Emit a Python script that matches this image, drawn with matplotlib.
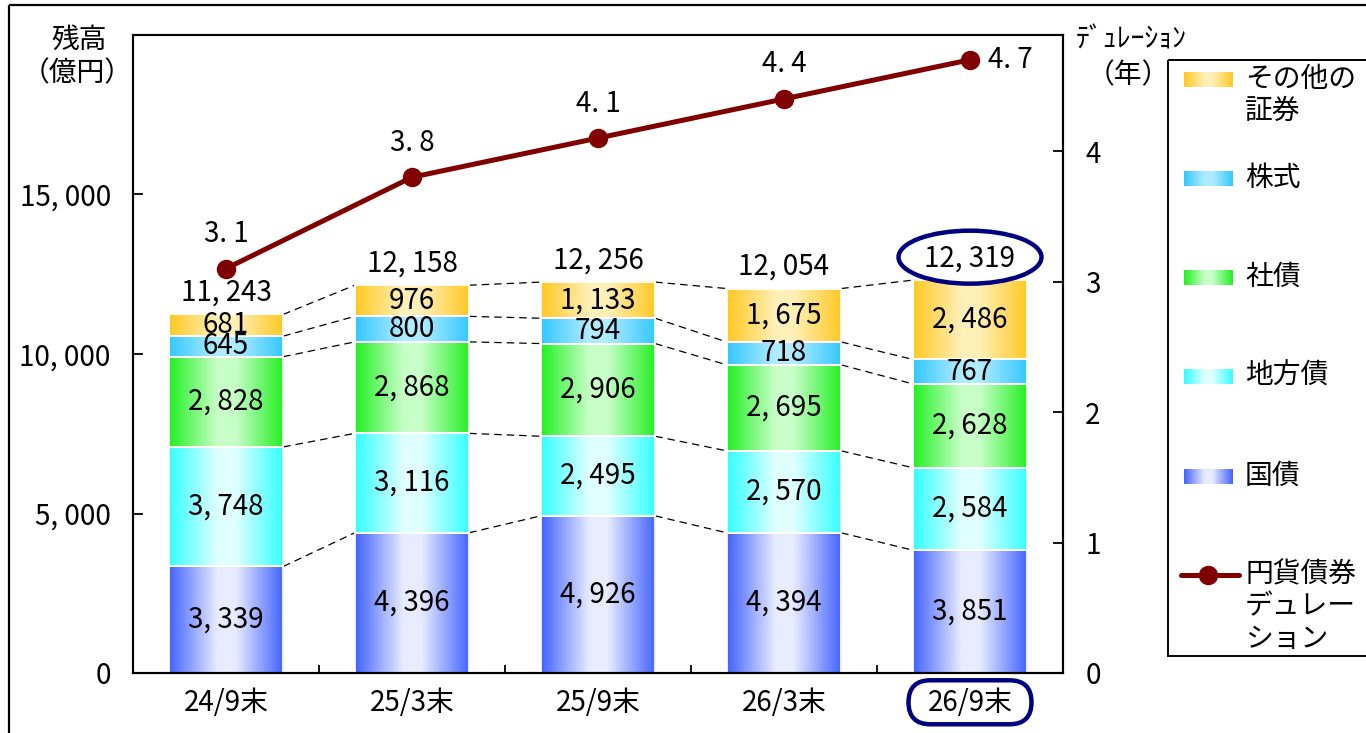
import matplotlib
matplotlib.use('Agg')
import matplotlib.pyplot as plt
import numpy as np
from matplotlib.colors import LinearSegmentedColormap
from matplotlib.patches import Rectangle, FancyBboxPatch, Ellipse
from matplotlib.transforms import IdentityTransform
from matplotlib.ticker import FuncFormatter

plt.rcParams['font.family'] = ['Noto Sans CJK JP', 'DejaVu Sans']

# ---------------- data ----------------
categories = ['24/9末', '25/3末', '25/9末', '26/3末', '26/9末']
kokusai = [3339, 4396, 4926, 4394, 3851]        # 国債
chihousai = [3748, 3116, 2495, 2570, 2584]      # 地方債
shasai = [2828, 2868, 2906, 2695, 2628]         # 社債
kabushiki = [645, 800, 794, 718, 767]           # 株式
sonota = [681, 976, 1133, 1675, 2486]           # その他の証券
totals = [11243, 12158, 12256, 12054, 12319]
duration = [3.1, 3.8, 4.1, 4.4, 4.7]

series = [kokusai, chihousai, shasai, kabushiki, sonota]
series_names = ['国債', '地方債', '社債', '株式', 'その他の\n証券']
line_name = '円貨債券\nデュレー\nション'
left_ticks = [0, 5000, 10000, 15000]
right_ticks = [0, 1, 2, 3, 4]

edge_colors = ['#4262ff', '#33ffff', '#22f022', '#33c8ff', '#ffc822']
center_colors = ['#e8ecff', '#e0ffff', '#c8ffc8', '#b0ecff', '#fff0b8']
line_color = '#800000'
navy = '#000080'

NUM_FS = 20
JP_FS = 20

W, H = 1366, 733
fig = plt.figure(figsize=(W / 100, H / 100), dpi=100)
L, R, T, B = 133, 1063, 35, 673
ax = fig.add_axes([L / W, 1 - B / H, (R - L) / W, (B - T) / H])

grad = np.linspace(0, 1, 256).reshape(1, -1)
cmaps = [LinearSegmentedColormap.from_list(f'g{k}', [(0, e), (0.42, c), (0.58, c), (1, e)])
         for k, (e, c) in enumerate(zip(edge_colors, center_colors))]

bw = 0.615
num_fmt = lambda v: f"{int(v):,}".replace(',', ', ')
x = np.arange(len(categories))
levels = np.cumsum(np.array(series), axis=0)  # tops of each segment

for i in x:
    bottom = 0
    for k, s in enumerate(series):
        v = s[i]
        ax.imshow(grad, cmap=cmaps[k], extent=(i - bw / 2, i + bw / 2, bottom, bottom + v),
                  aspect='auto', interpolation='bilinear', zorder=2)
        ax.add_patch(Rectangle((i - bw / 2, bottom), bw, v, fill=False, ec='white', lw=1.3, zorder=3))
        ax.text(i, bottom + v / 2, num_fmt(v), ha='center', va='center', fontsize=NUM_FS, zorder=4)
        bottom += v

# dashed connectors
for i in x[:-1]:
    for lev in range(levels.shape[0]):
        ax.plot([i + bw / 2, i + 1 - bw / 2], [levels[lev, i], levels[lev, i + 1]],
                color='black', lw=0.9, dashes=(6, 4), zorder=1)

total_texts = []
for i in x:
    t = ax.annotate(num_fmt(totals[i]), xy=(i, levels[-1, i]), xytext=(0, 5),
                    textcoords='offset points', ha='center', va='bottom', fontsize=NUM_FS, zorder=4)
    total_texts.append(t)

ax.set_xlim(-0.5, len(categories) - 0.5)
ax.set_ylim(0, 20000)
ax.set_yticks(left_ticks)
ax.yaxis.set_major_formatter(FuncFormatter(lambda v, p: num_fmt(v)))
ax.set_xticks(x)
ax.set_xticklabels(categories)
ax.set_xticks(x[:-1] + 0.5, minor=True)
ax.tick_params(axis='x', which='major', length=0, pad=11, labelsize=NUM_FS)
ax.tick_params(axis='x', which='minor', direction='in', length=6, width=1.3)
ax.tick_params(axis='y', direction='in', length=7, width=1.3, pad=16, labelsize=NUM_FS)
for sp in ax.spines.values():
    sp.set_linewidth(1.5)

ax2 = ax.twinx()
ax2.plot(x, duration, color=line_color, lw=3.6, marker='o', ms=13, zorder=5)
for i in x:
    if i < len(x) - 1:
        ax2.annotate(f"{duration[i]:.1f}".replace('.', '. '), xy=(i, duration[i]), xytext=(0, 14),
                     textcoords='offset points', ha='center', va='bottom', fontsize=NUM_FS)
    else:
        ax2.annotate(f"{duration[i]:.1f}".replace('.', '. '), xy=(i, duration[i]), xytext=(13, 0),
                     textcoords='offset points', ha='left', va='center', fontsize=NUM_FS)
ax2.set_ylim(0, 4.89)
ax2.set_yticks(right_ticks)
ax2.tick_params(axis='y', direction='in', length=7, width=1.3, pad=16, labelsize=NUM_FS)
for sp in ax2.spines.values():
    sp.set_linewidth(1.5)

# ---------------- overlay: frame, axis titles, legend (pixel coords) ----------------
lax = fig.add_axes([0, 0, 1, 1], zorder=10)
lax.set_xlim(0, W)
lax.set_ylim(H, 0)
lax.axis('off')

lax.add_patch(Rectangle((9, 5), W + 50, H + 50, fill=False, ec='black', lw=1.6, clip_on=False))
lax.text(79, 40, '残高', ha='center', va='center', fontsize=JP_FS)
lax.text(77, 73, '（億円）', ha='center', va='center', fontsize=JP_FS)
lax.text(1131, 40, 'ﾃﾞｭﾚｰｼｮﾝ', ha='center', va='center', fontsize=JP_FS)
lax.text(1128, 75, '（年）', ha='center', va='center', fontsize=JP_FS)

lax.add_patch(Rectangle((1168, 60), 260, 596, fill=False, ec='black', lw=1.4, clip_on=False))
leg_y = [80, 179, 278, 377, 477]
order = [4, 3, 2, 1, 0]
for yy, k in zip(leg_y, order):
    lax.imshow(grad, cmap=cmaps[k], extent=(1184, 1233, yy + 7.5, yy - 7.5),
               aspect='auto', interpolation='bilinear')
    lax.text(1245, yy - 16, series_names[k], ha='left', va='top', fontsize=JP_FS, linespacing=1.1)
ly = 575
lax.plot([1181, 1239], [ly, ly], color=line_color, lw=3.6, solid_capstyle='round')
lax.plot([1208], [ly], marker='o', ms=13, color=line_color)
lax.text(1245, ly - 16, line_name, ha='left', va='top', fontsize=JP_FS, linespacing=1.1)
lax.set_xlim(0, W)
lax.set_ylim(H, 0)

# highlight marks around the latest total and its category label
fig.canvas.draw()
rend = fig.canvas.get_renderer()
bb = total_texts[-1].get_window_extent(rend)
cx, cy = (bb.x0 + bb.x1) / 2, (bb.y0 + bb.y1) / 2
fig.add_artist(Ellipse((cx, cy + 1), bb.width + 52, 53, fill=False, ec=navy, lw=3.2,
                       transform=IdentityTransform()))
lbl = ax.get_xticklabels()[-1]
lb = lbl.get_window_extent(rend)
pw, ph = 123, 44
px0 = (lb.x0 + lb.x1) / 2 - pw / 2
py0 = (lb.y0 + lb.y1) / 2 - ph / 2 + 1
fig.add_artist(FancyBboxPatch((px0, py0), pw, ph, boxstyle=f"round,pad=0,rounding_size={ph / 2}",
                              fill=False, ec=navy, lw=3.2, transform=IdentityTransform()))

fig.savefig('out.png', dpi=100)
